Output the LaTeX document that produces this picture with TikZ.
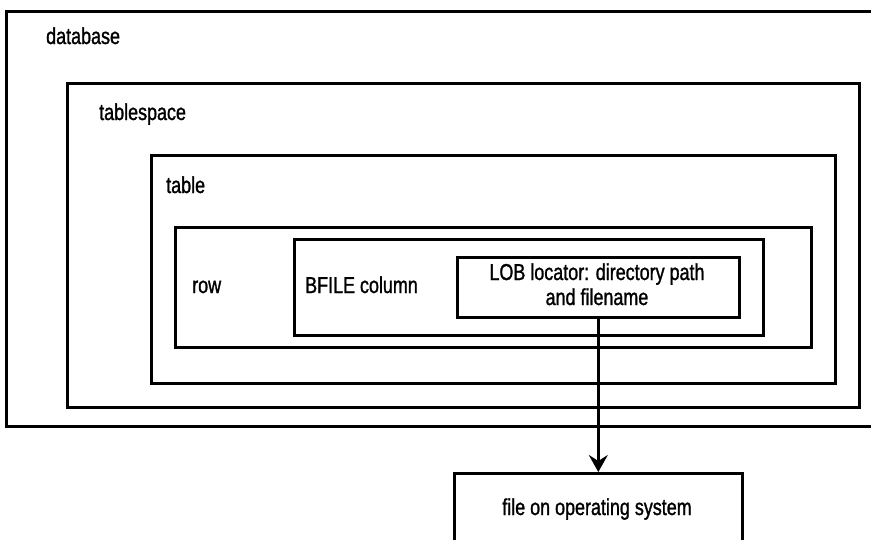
\documentclass[tikz,border=0pt]{standalone}
\usepackage{fontspec}
\setmainfont{Liberation Sans}[FakeStretch=0.78, FakeBold=1.2]
\usepackage{tikz}
\usetikzlibrary{arrows.meta}

\begin{document}
\begin{tikzpicture}[x=1pt, y=-1pt,
	box/.style={draw, line width=2.6pt, inner sep=0pt, anchor=north west},
	txt/.style={inner sep=0pt, anchor=base west, font=\fontsize{23}{25}\selectfont}]
	\clip (0,0) rectangle (871,539);
	\fill[white] (0,0) rectangle (871,539);
	\node[box, minimum width=900pt, minimum height=415pt] (database) at (5,10) {};
	\node[box, minimum width=792pt, minimum height=324pt] (tablespace) at (66,82) {};
	\node[box, minimum width=684pt, minimum height=228pt] (table) at (150,154) {};
	\node[box, minimum width=636pt, minimum height=120pt] (row) at (174,226) {};
	\node[box, minimum width=469pt, minimum height=96pt] (bfile) at (293,238) {};
	\node[box, minimum width=282pt, minimum height=60pt] (lob) at (456,256) {};
	\node[box, minimum width=288pt, minimum height=120pt] (file) at (453,472) {};
	\node[txt] (databaselabel) at (46,44) {database};
	\node[txt] (tablespacelabel) at (99,120) {tablespace};
	\node[txt] (tablelabel) at (166,193) {table};
	\node[txt] (rowlabel) at (192,293) {row};
	\node[txt] (bfilelabel) at (305,293) {BFILE column};
	\node[txt, anchor=base, align=center] (loblabel) at (597,305) {LOB locator: directory path\\and filename};
	\node[txt, anchor=base] (filelabel) at (597,515) {file on operating system};
	\draw[line width=2.6pt, -{Stealth[length=17pt, width=19pt, inset=6pt]}] (lob.south) -- (file.north);
\end{tikzpicture}
\end{document}
